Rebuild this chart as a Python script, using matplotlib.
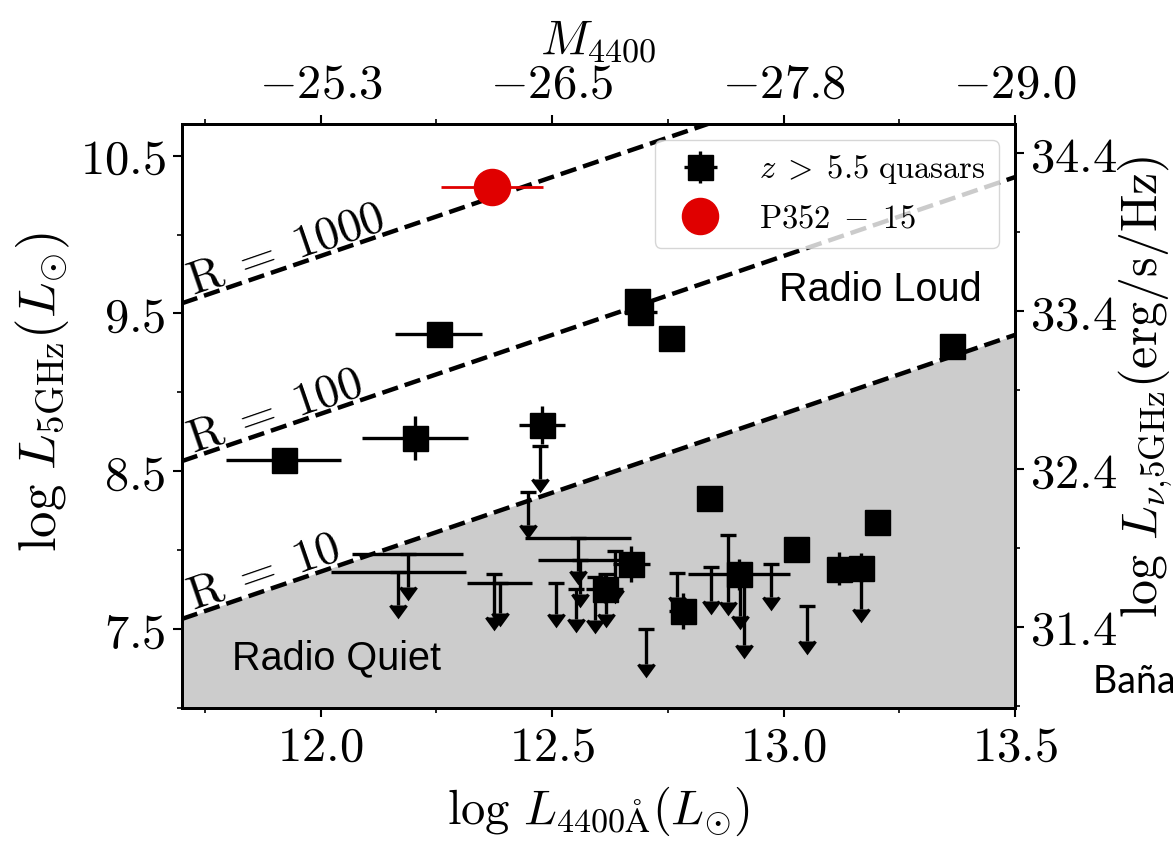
import numpy as np
import matplotlib
matplotlib.use("Agg")
from matplotlib import pyplot as plt
from matplotlib.ticker import FixedLocator, FuncFormatter

plt.rcParams['mathtext.fontset'] = 'cm'
plt.rcParams['font.family'] = ['DejaVu Serif']

# detections (black squares)
det_x = [11.92, 12.204, 12.255, 12.479, 12.684, 12.691, 12.756, 13.365, 12.840,
         13.201, 13.028, 13.119, 13.168, 12.671, 12.614, 12.782, 12.903]
det_y = [8.57, 8.711, 9.368, 8.795, 9.580, 9.507, 9.343, 9.294, 8.332,
         8.180, 8.010, 7.883, 7.890, 7.911, 7.753, 7.616, 7.847]
det_xerr = [0.125, 0.115, 0.094, 0.05, 0, 0.035, 0, 0, 0,
            0, 0, 0, 0, 0.04, 0.04, 0.03, 0.11]
det_yerr = [0, 0.14, 0, 0.12, 0, 0, 0, 0, 0,
            0, 0, 0.105, 0.09, 0.115, 0.09, 0.115, 0.1]

# upper limits (arrows)
ul_x = [12.168, 12.188, 12.375, 12.387, 12.448, 12.473, 12.556, 12.56, 12.509, 12.552, 12.592,
        12.617, 12.635, 12.703, 12.769, 12.843, 12.881, 12.905, 12.915, 12.973, 13.051, 13.168]
ul_y = [7.864, 7.974, 7.847, 7.795, 8.367, 8.658, 8.075, 7.936, 7.79, 7.753, 7.83,
        7.85, 7.995, 7.5, 7.854, 7.894, 8.094, 7.85, 7.80, 7.911, 7.647, 7.89]
ul_len = [0.21, 0.21, 0.27, 0.19, 0.21, 0.21, 0.205, 0.215, 0.195, 0.19, 0.27,
          0.255, 0.25, 0.22, 0.15, 0.215, 0.42, 0.27, 0.40, 0.21, 0.22, 0.26]
ul_xerr = [0.146, 0.12, 0, 0.07, 0, 0, 0.115, 0.09, 0, 0, 0,
           0, 0, 0, 0, 0, 0, 0, 0, 0, 0, 0]

# P352-15
p352_x = [12.37]
p352_y = [10.30]
p352_xerr = [0.11]

# radio loudness lines
R_values = [10, 100, 1000]
R_offset = -5.136

xticks = [12.0, 12.5, 13.0, 13.5]
mag_labels = ["-25.3", "-26.5", "-27.8", "-29.0"]
lnu_ticks = [31.4, 32.4, 33.4, 34.4]
lnu_shift = 23.884

xlim = (11.7, 13.5)
ylim = (7.0, 10.7)

fig = plt.figure(figsize=(11.73, 8.44), dpi=100)
ax = fig.add_axes([0.1549, 0.1611, 0.7104, 0.6919])

xx = np.array(xlim)
ax.fill_between(xx, xx + np.log10(10) + R_offset, ylim[0], color="#cccccc", zorder=0.5, lw=0)
for R in R_values:
    ax.plot(xx, xx + np.log10(R) + R_offset, color="black", linestyle="--", linewidth=3.2, zorder=2)
    ax.text(11.725, 11.725 + np.log10(R) + R_offset + 0.03, r"$\mathrm{R}\;=\;%d$" % R,
            fontsize=34, rotation=19, rotation_mode="anchor", ha="left", va="baseline", zorder=2.5)

ebw = 2.4
ax.errorbar(ul_x, ul_y, yerr=ul_len, uplims=True, fmt="none", color="black", ecolor="black",
            elinewidth=ebw, capsize=5.5, capthick=ebw, zorder=3)
ax.errorbar(ul_x, ul_y, xerr=ul_xerr, fmt="none", color="black", ecolor="black",
            elinewidth=ebw, capsize=0, zorder=3)
det = ax.errorbar(det_x, det_y, xerr=det_xerr, yerr=det_yerr, fmt="s", color="black",
                  ms=18, elinewidth=ebw, capsize=0, zorder=4)
red = ax.errorbar(p352_x, p352_y, xerr=p352_xerr, fmt="o", color="#e00000",
                  ms=26, elinewidth=2.0, capsize=0, zorder=5)

ax.text(0.96, 0.697, "Radio Loud", transform=ax.transAxes, fontsize=28.5,
        family="Liberation Sans", ha="right", va="baseline")
ax.text(0.06, 0.066, "Radio Quiet", transform=ax.transAxes, fontsize=28.5,
        family="Liberation Sans", ha="left", va="baseline")

ax.legend([det, red], [r"$z\;>\;5.5\ \mathrm{quasars}$", r"$\mathrm{P352}\;-\;15$"],
          loc="upper right", fontsize=23.5, framealpha=0.8, edgecolor="0.8")

ax.set_xlim(xlim)
ax.set_ylim(ylim)
fmt = FuncFormatter(lambda v, p: r"$%.1f$" % v)
ax.xaxis.set_major_locator(FixedLocator(xticks))
ax.xaxis.set_minor_locator(FixedLocator([11.75, 12.25, 12.75, 13.25]))
ax.yaxis.set_major_locator(FixedLocator([7.5, 8.5, 9.5, 10.5]))
ax.yaxis.set_minor_locator(FixedLocator([7.0, 8.0, 9.0, 10.0]))
ax.xaxis.set_major_formatter(fmt)
ax.yaxis.set_major_formatter(fmt)
ax.set_xlabel(r"$\log\,L_{4400\mathrm{\AA}}(L_{\odot})$", fontsize=35, labelpad=10)
ax.set_ylabel(r"$\log\,L_{\rm 5GHz}(L_{\odot})$", fontsize=38, labelpad=6)
ax.yaxis.label.set_y(0.54)

axt = ax.twiny()
axt.set_xlim(xlim)
axt.xaxis.set_major_locator(FixedLocator(xticks))
axt.xaxis.set_minor_locator(FixedLocator([11.75, 12.25, 12.75, 13.25]))
axt.set_xticklabels([r"$%s$" % m for m in mag_labels])
axt.set_xlabel(r"$M_{4400}$", fontsize=35, labelpad=6)

axr = ax.twinx()
axr.set_ylim(ylim)
axr.yaxis.set_major_locator(FixedLocator(np.array(lnu_ticks) - lnu_shift))
axr.yaxis.set_minor_locator(FixedLocator(np.array(lnu_ticks) - 0.5 - lnu_shift))
axr.set_yticklabels([r"$%.1f$" % v for v in lnu_ticks])
axr.set_ylabel(r"$\log\,L_{\nu,\!\rm 5GHz}(\rm erg/s/Hz)$", fontsize=36, labelpad=0)
axr.yaxis.label.set_y(0.55)

for a in (ax, axt, axr):
    a.tick_params(which="major", length=6.5, width=1.5, labelsize=35, pad=5)
    a.tick_params(which="minor", length=3.3, width=1.2)
    for s in a.spines.values():
        s.set_linewidth(2)
axr.tick_params(which="major", pad=4)

fig.text(1093 / 1173, 1 - 692 / 844, "Bañados et al. (2018)", fontsize=27,
         family="Lato", ha="left", va="baseline")

fig.savefig("out.png", dpi=100)
